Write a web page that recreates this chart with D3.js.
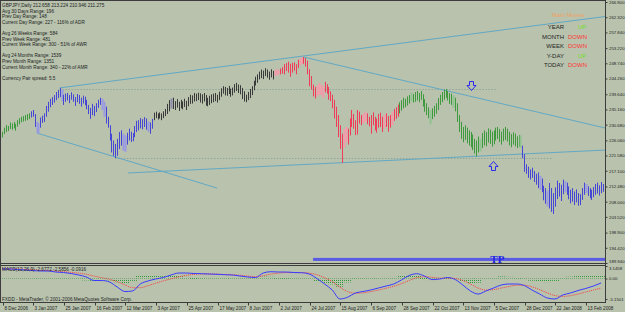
<!DOCTYPE html>
<html><head><meta charset="utf-8">
<script src="https://cdn.jsdelivr.net/npm/d3@7"></script>
<style>html,body{margin:0;padding:0;background:#b8c2ad;overflow:hidden}svg{display:block}</style>
</head><body><svg id="c" width="625" height="312"></svg>
<script>
// ---------- DATA ----------
const symbolHeader = "GBPJPY,Daily  212.658 213.224 210.946 211.275";
const infoLines = [
  "Avg 30 Days Range: 196","Prev Day Range: 148","Current Day Range: 227 - 116% of ADR","",
  "Avg 26 Weeks Range: 584","Prev Week Range: 481","Current Week Range: 300 - 51% of AWR","",
  "Avg 24 Months Range: 1539","Prev Month Range: 1351","Current Month Range: 340 - 22% of AMR","",
  "Currency Pair spread: 5.5"
];
const moveNames = ["YEAR","MONTH","WEEK","Y-DAY","TODAY"];
const moveDirs  = ["UP","DOWN","DOWN","UP","DOWN"];

const highs = [
228.6,229.8,230.6,230.3,231.3,231.0,231.5,230.9,232.0,232.6,233.0,233.2,233.5,233.8,234.0,
234.6,235.0,
233.8,231.5,231.0,232.8,233.3,234.0,236.2,237.4,238.3,238.8,239.4,240.3,240.9,241.5,
241.0,239.5,239.8,240.0,239.4,240.2,239.6,238.8,239.7,239.4,238.6,239.2,238.9,238.0,236.5,235.6,236.8,236.2,237.0,238.0,
238.6,238.3,237.4,236.0,233.0,230.5,228.0,226.0,225.0,226.5,
228.5,229.0,228.0,227.5,228.3,229.5,228.6,228.2,230.3,231.8,232.0,232.6,232.3,232.9,232.5,231.6,231.3,232.4,
234.2,234.5,234.0,234.3,234.0,234.6,235.3,236.8,237.9,238.4,238.6,237.6,238.2,237.4,238.0,237.5,238.3,237.7,238.8,239.5,239.3,240.0,
239.8,240.1,239.9,239.6,240.0,239.4,238.6,239.2,239.6,239.8,240.0,239.5,240.4,241.4,242.0,241.8,241.5,242.1,241.3,241.6,242.6,243.0,242.5,242.3,
241.5,240.5,239.5,240.3,241.2,242.0,243.6,244.8,245.5,246.3,246.9,246.6,247.3,246.9,246.3,247.0,246.5,
246.8,247.0,246.8,247.2,247.6,248.5,248.8,249.2,248.6,248.9,249.0,248.5,249.8,250.2,250.5,250.6,250.3,249.5,247.0,
245.0,242.5,241.8,242.3,243.0,242.4,242.0,243.3,242.6,241.8,240.5,239.5,238.0,236.0,233.5,230.5,228.0,229.5,230.0,229.5,
232.5,235.0,233.8,232.0,235.0,234.5,233.5,234.0,234.5,234.0,233.0,233.5,234.3,233.0,232.5,233.8,234.2,233.0,233.6,234.0,233.2,233.5,234.5,235.3,235.8,236.6,
237.3,237.9,238.6,238.3,239.0,239.4,240.2,239.7,240.3,240.6,240.0,240.6,239.6,238.2,237.0,235.8,235.0,235.5,236.2,237.0,238.5,239.5,240.3,241.0,241.2,240.6,240.0,239.8,239.3,238.6,
237.0,233.5,231.5,230.0,230.5,229.8,229.0,228.5,227.8,226.5,226.0,227.2,226.4,228.2,229.0,228.5,229.6,229.2,228.6,229.0,229.8,230.0,229.4,228.6,229.5,230.0,229.5,228.6,227.9,228.4,228.0,227.2,227.6,227.5,
224.5,222.0,219.0,218.3,217.5,218.0,217.0,216.2,216.6,215.6,214.8,212.7,212.0,211.3,213.5,212.0,210.5,212.2,214.2,213.5,213.0,214.5,214.0,213.6,212.5,211.5,212.0,211.0,211.6,210.5,210.2,212.0,213.6,213.2,212.5,212.0,211.5,212.3,213.2,213.6,212.8,213.8,213.2
];
const lows = [
226.9,227.9,228.5,228.8,229.4,229.2,229.6,228.9,230.1,230.8,231.4,231.6,231.8,232.0,232.3,
232.8,233.0,
230.0,228.3,228.0,229.8,231.2,231.5,233.0,234.5,235.8,236.5,237.2,237.9,238.5,238.8,
237.6,236.5,237.4,237.8,237.0,238.0,237.4,236.2,237.3,236.8,236.0,236.9,236.4,235.2,233.8,232.4,233.5,233.2,234.4,235.6,
236.5,235.0,233.0,231.0,229.8,226.0,222.5,221.5,220.9,221.5,
223.5,224.5,223.0,222.7,224.8,226.0,225.6,225.8,227.0,228.5,229.0,229.6,229.3,230.0,229.2,228.6,228.0,229.5,
232.0,232.6,232.2,232.5,232.0,232.6,233.2,233.8,234.6,235.4,235.3,235.0,235.7,234.7,235.5,235.2,235.9,235.0,236.1,236.8,236.9,237.5,
237.6,237.9,237.2,236.9,237.5,236.3,236.1,236.5,237.0,237.3,237.6,237.2,237.9,238.9,239.8,239.3,239.2,239.7,238.9,239.3,240.1,240.6,240.0,239.6,
238.2,237.5,237.3,237.9,238.5,239.4,240.8,242.2,243.0,244.0,244.4,244.1,245.0,244.5,243.9,244.6,244.0,
245.0,245.3,245.4,245.5,245.7,245.5,246.5,246.0,244.8,246.0,246.6,245.5,247.3,248.2,248.5,248.6,247.8,245.5,242.0,
241.0,239.0,238.4,239.0,239.5,239.3,238.5,240.2,239.8,238.0,237.6,235.5,232.5,230.0,227.0,223.5,219.4,224.0,225.5,224.8,
227.5,230.0,229.5,227.6,227.8,231.0,230.5,231.0,231.5,230.8,230.2,228.0,230.5,229.0,228.3,229.8,230.0,228.5,229.6,230.0,228.6,229.8,230.5,231.8,232.4,233.0,
234.0,234.8,235.5,235.8,236.3,236.9,237.6,237.2,237.4,237.8,237.3,238.0,236.0,234.5,233.5,232.6,230.8,232.3,233.0,233.9,235.0,236.5,237.3,238.0,238.6,237.8,236.8,236.5,235.7,234.6,
231.5,228.5,226.5,225.5,226.2,225.2,224.5,224.0,223.2,222.2,221.3,222.5,222.8,223.8,224.6,224.3,225.4,225.0,224.2,224.9,226.0,226.5,225.6,224.8,225.8,226.2,225.7,224.6,224.0,224.8,224.3,223.8,224.2,223.8,
220.8,216.8,216.2,215.0,214.5,215.0,213.8,213.0,212.0,211.5,210.8,208.4,207.4,206.6,206.0,205.0,204.4,206.5,208.8,209.5,208.2,210.2,210.8,210.0,208.7,207.5,208.0,207.0,207.8,206.8,207.0,208.5,210.0,210.5,209.7,209.0,208.5,209.3,210.0,210.4,209.8,210.5,210.9
];
// trend state of the bar colouring indicator (first bar index of each run)
const segmentStarts = [0, 15, 79, 142, 207, 271];
const segmentStates = ["rise", "fall", "range", "drop", "rise", "fall"];
const accentBars = [18,19,31,52,53,63,64,76,88,142,143,144,155,156,164,165,166,167,178,179,188,189,199,203,213,223,235,249,270,280,284,293,304];

const dateLabels = ["8 Dec 2006","3 Jan 2007","25 Jan 2007","16 Feb 2007","12 Mar 2007","3 Apr 2007","25 Apr 2007","17 May 2007","8 Jun 2007","2 Jul 2007","24 Jul 2007","15 Aug 2007","6 Sep 2007","28 Sep 2007","22 Oct 2007","13 Nov 2007","5 Dec 2007","28 Dec 2007","22 Jan 2008","13 Feb 2008"];
const barsPerDateLabel = 16;
const priceTicks = [266.800,262.320,257.840,253.220,248.740,244.260,239.640,235.160,230.680,226.060,221.580,217.100,212.480,208.000,203.520,198.900,194.420,189.940];
const priceMin = 189.94, priceMax = 266.80;

// MACD(12,26,9), sampled every 4 bars
const macdStep = 4;
const macdMain = [2.39,2.39,2.26,2.14,2.01,1.89,1.89,1.63,1.51,1.26,0.88,0.38,-0.50,-0.50,-0.88,-2.14,-3.27,-3.14,-1.38,-0.63,-0.13,0.25,0.88,1.38,1.38,1.26,1.21,1.13,1.06,0.96,0.88,0.63,0.38,0.25,1.38,1.71,1.63,1.63,1.51,1.46,1.13,0,-1.38,-2.89,-5.15,-4.7,-3.65,-3.27,-2.89,-2.39,-1.89,-1.38,-0.38,0.75,1.21,0.63,-0.25,-0.13,0.25,-0.25,-1.63,-3.14,-3.90,-3.14,-2.39,-1.63,-1.38,-1.38,-1.76,-2.89,-3.90,-4.90,-5.15,-4.15,-3.65,-3.02,-2.51,-1.89,-1.13];
const macdSignal = [2.5,2.45,2.4,2.3,2.2,2.05,1.95,1.85,1.7,1.55,1.35,1.05,0.6,0.2,-0.2,-0.8,-1.6,-2.3,-2.3,-1.8,-1.2,-0.6,-0.1,0.4,0.8,1.05,1.15,1.15,1.1,1.0,0.95,0.8,0.6,0.45,0.7,1.1,1.35,1.5,1.5,1.5,1.35,0.95,0.2,-0.8,-2.2,-3.3,-3.7,-3.6,-3.3,-2.9,-2.45,-1.95,-1.3,-0.5,0.2,0.45,0.3,0.1,0.1,0.0,-0.5,-1.4,-2.4,-2.9,-2.8,-2.4,-2.0,-1.7,-1.7,-2.1,-2.8,-3.6,-4.3,-4.5,-4.3,-3.9,-3.4,-2.9,-2.4];
const macdHist = [-0.08,-0.04,-0.1,-0.11,-0.13,-0.11,-0.04,-0.15,-0.13,-0.2,-0.33,-0.47,-0.77,-0.49,-0.48,-0.94,-1.17,-0.59,0.64,0.82,0.75,0.6,0.69,0.69,0.41,0.15,0.04,-0.01,-0.03,-0.03,-0.05,-0.12,-0.15,-0.14,0.48,0.43,0.2,0.09,0.01,-0.03,-0.15,-0.67,-1.1,-1.46,-2.06,-0.98,0.04,0.23,0.29,0.36,0.39,0.4,0.64,0.88,0.71,0.13,-0.39,-0.16,0.1,-0.18,-0.79,-1.22,-1.05,-0.17,0.29,0.54,0.43,0.22,-0.04,-0.55,-0.77,-0.91,-0.6,0.25,0.46,0.62,0.62,0.71,0.89];
const macdTicks = [3.1458, 0, -5.1501];
const macdTitle = "MACD(12,26,9) -2.6772 -2.5856 -0.0916";
const footer = "FXDD - MetaTrader, \u00A9 2001-2006 MetaQuotes Software Corp.";

// drawn objects (bar index / price)
const trendLines = [
  {i1:30, p1:241.5, i2:324.5, p2:263.3},
  {i1:18.2, p1:228.2, i2:112, p2:212.0},
  {i1:157, p1:250.6, i2:314, p2:229.7},
  {i1:65.6, p1:216.45, i2:314, p2:223.2}
];
const levelLines = [{p:241.2, i1:30, i2:258}, {p:221.0, i1:59, i2:287}];
const arrowMarks = [{i:244, p:240.9, dir:"down"}, {i:255.5, p:220.0, dir:"up"}];
const tpLevel = 191.0, tpFromBar = 162, tpLabelBar = 258;

// ---------- DRAW ----------
const W = 625, H = 312, AX = 605;
const FONT = "'Liberation Sans', Arial, sans-serif";
const svg = d3.select("#c");
svg.append("rect").attr("width", W).attr("height", H).attr("fill", "#b8c2ad");

const nBars = Math.min(highs.length, lows.length);
const x = d3.scaleLinear().domain([0, 313]).range([2, 603]);
const y = d3.scaleLinear().domain([priceMin, priceMax]).range([263, 2]);
const my = d3.scaleLinear().domain([-5.1501, 3.1458]).range([299, 266]);

const defs = svg.append("defs");
defs.append("clipPath").attr("id", "mclip").append("rect").attr("x", 1).attr("y", 1).attr("width", AX - 1).attr("height", 262);
defs.append("clipPath").attr("id", "iclip").append("rect").attr("x", 1).attr("y", 266).attr("width", AX - 1).attr("height", 36);
const pat = defs.append("pattern").attr("id", "hp").attr("patternUnits", "userSpaceOnUse").attr("width", 2).attr("height", 2);
pat.append("rect").attr("width", 1).attr("height", 1).attr("fill", "#2f9a3a");

const main = svg.append("g").attr("clip-path", "url(#mclip)");

// dotted level lines
main.selectAll("line.lvl").data(levelLines).join("line")
  .attr("x1", d => x(d.i1)).attr("x2", d => x(d.i2))
  .attr("y1", d => Math.round(y(d.p)) + 0.5).attr("y2", d => Math.round(y(d.p)) + 0.5)
  .attr("stroke", "#7f9a90").attr("stroke-width", 1).attr("stroke-dasharray", "1,2");

// trend lines
main.selectAll("line.tl").data(trendLines).join("line")
  .attr("x1", d => x(d.i1)).attr("y1", d => y(d.p1))
  .attr("x2", d => x(d.i2)).attr("y2", d => y(d.p2))
  .attr("stroke", "#62a8c4").attr("stroke-width", 1);

// bars
const stateColor = {rise: "#3d9a3d", fall: "#4646d6", range: "#3a3a3a", drop: "#f03c58"};
const accentColor = {rise: "#8fc48f", fall: "#9a9ae2", range: "#8c8ca8", drop: "#f29cab"};
function stateOf(i) { let s = segmentStates[0]; segmentStarts.forEach((st, k) => { if (i >= st) s = segmentStates[k]; }); return s; }
const accentSet = new Set(accentBars);
const bars = d3.range(nBars).map(i => ({i, h: highs[i], l: lows[i], s: stateOf(i), a: accentSet.has(i)}));
main.selectAll("line.bar").data(bars).join("line")
  .attr("x1", d => Math.round(x(d.i)) + 0.5).attr("x2", d => Math.round(x(d.i)) + 0.5)
  .attr("y1", d => y(d.h)).attr("y2", d => y(d.l))
  .attr("stroke", d => d.a ? accentColor[d.s] : stateColor[d.s])
  .attr("stroke-width", d => d.a ? 2 : 1);

// arrows
function arrowPath(cx, ty, dir) {
  const s = dir === "down" ? -1 : 1;
  const pts = [[cx - 2, ty + 9 * s], [cx + 2, ty + 9 * s], [cx + 2, ty + 5 * s], [cx + 4.5, ty + 5 * s], [cx, ty], [cx - 4.5, ty + 5 * s], [cx - 2, ty + 5 * s]];
  return "M" + pts.map(p => p.join(",")).join("L") + "Z";
}
main.selectAll("path.arr").data(arrowMarks).join("path")
  .attr("d", d => arrowPath(Math.round(x(d.i)) + 0.5, Math.round(y(d.p)) + 0.5, d.dir))
  .attr("fill", "none").attr("stroke", "#2a2aee").attr("stroke-width", 1);

// TP line
main.append("rect").attr("x", x(tpFromBar)).attr("y", y(tpLevel) - 1.5).attr("width", AX - x(tpFromBar)).attr("height", 3).attr("fill", "#5a5ae4");
svg.append("text").attr("x", x(tpLabelBar)).attr("y", y(tpLevel) + 4).attr("text-anchor", "middle")
  .attr("font-family", "'Liberation Serif', 'Times New Roman', serif").attr("font-weight", "bold").attr("font-size", 11)
  .attr("fill", "#2424e6").text("TP");

// info text
const info = svg.append("g").attr("font-family", FONT).attr("font-size", 4.7).attr("fill", "#1e1e1e");
info.append("text").attr("x", 2).attr("y", 7).text(symbolHeader);
info.selectAll("text.l").data(infoLines).join("text").attr("class", "l")
  .attr("x", 2).attr("y", (d, k) => 12.6 + k * 5.6).text(d => d);

// main moves
const mv = svg.append("g").attr("font-family", FONT).attr("font-size", 6);
mv.append("text").attr("x", 568).attr("y", 17).attr("text-anchor", "middle").attr("fill", "#f0a060").text("Main Moves");
mv.selectAll("text.n").data(moveNames).join("text").attr("class", "n")
  .attr("x", 564).attr("y", (d, k) => 29 + k * 9.5).attr("text-anchor", "end").attr("fill", "#1e1e1e").text(d => d);
mv.selectAll("text.v").data(moveDirs).join("text").attr("class", "v")
  .attr("x", d => d === "UP" ? 578 : 568).attr("y", (d, k) => 29 + k * 9.5)
  .attr("fill", d => d === "UP" ? "#72e024" : "#ff3434").text(d => d);

// MACD panel
const ind = svg.append("g").attr("clip-path", "url(#iclip)");
ind.selectAll("rect.h").data(macdHist).join("rect")
  .attr("x", (d, k) => Math.round(x(k * macdStep) - 4))
  .attr("width", 8)
  .attr("y", d => Math.min(my(0), my(d)))
  .attr("height", d => Math.max(1, Math.abs(my(d) - my(0))))
  .attr("fill", "url(#hp)");
const ln = d3.line().x((d, k) => x(k * macdStep)).y(d => my(d)).curve(d3.curveMonotoneX);
ind.append("path").attr("d", ln(macdSignal)).attr("fill", "none").attr("stroke", "#ff3a3a").attr("stroke-width", 1).attr("stroke-dasharray", "1,1");
ind.append("path").attr("d", ln(macdMain)).attr("fill", "none").attr("stroke", "#3a3aff").attr("stroke-width", 1);
svg.append("text").attr("x", 2).attr("y", 270.5).attr("font-family", FONT).attr("font-size", 4.7).attr("fill", "#1e1e1e").text(macdTitle);
svg.append("text").attr("x", 2).attr("y", 301).attr("font-family", FONT).attr("font-size", 4.7).attr("fill", "#1e1e1e").text(footer);

// frames
const fr = svg.append("g").attr("stroke", "#3c3c3c").attr("stroke-width", 1).attr("shape-rendering", "crispEdges");
fr.append("line").attr("x1", 0.5).attr("x2", 0.5).attr("y1", 0).attr("y2", 303);
fr.append("line").attr("x1", AX + 0.5).attr("x2", AX + 0.5).attr("y1", 0).attr("y2", 303);
fr.append("line").attr("x1", 0).attr("x2", AX).attr("y1", 0.5).attr("y2", 0.5);
fr.append("line").attr("x1", 0).attr("x2", AX).attr("y1", 263.5).attr("y2", 263.5);
fr.append("line").attr("x1", 0).attr("x2", AX).attr("y1", 265.5).attr("y2", 265.5);
fr.append("line").attr("x1", 0).attr("x2", AX + 1).attr("y1", 302.5).attr("y2", 302.5);

// axes
function styleAxis(g) {
  g.select(".domain").remove();
  g.selectAll("line").attr("stroke", "#3c3c3c");
  g.selectAll("text").attr("font-family", FONT).attr("font-size", 4.3).attr("fill", "#1e1e1e");
}
const ya = svg.append("g").attr("transform", `translate(${AX + 0.5},0)`)
  .call(d3.axisRight(y).tickValues(priceTicks).tickSize(2).tickPadding(1.5).tickFormat(d3.format(".3f")));
styleAxis(ya);
ya.selectAll(".tick text").filter(d => d === priceMin).attr("dy", "-0.1em");
const ma = svg.append("g").attr("transform", `translate(${AX + 0.5},0)`)
  .call(d3.axisRight(my).tickValues(macdTicks).tickSize(2).tickPadding(1.5).tickFormat(d => d === 0 ? "0.00" : d.toFixed(4)));
styleAxis(ma);
ma.selectAll(".tick text").filter(d => d === macdTicks[0]).attr("dy", "0.9em");
const xa = svg.append("g").attr("transform", "translate(0,302.5)")
  .call(d3.axisBottom(x).tickValues(dateLabels.map((d, k) => k * barsPerDateLabel)).tickSize(3).tickFormat((d, k) => dateLabels[k]));
styleAxis(xa);
xa.selectAll("text").attr("font-size", 4.6).attr("text-anchor", "start").attr("y", 4).attr("dy", "0.71em").attr("dx", 1);
xa.selectAll(".tick").attr("transform", function () { const t = d3.select(this).attr("transform"); const m = /translate\(([-\d.]+)/.exec(t); return `translate(${Math.round(+m[1]) + 0.5},0)`; });
</script>
</body></html>
